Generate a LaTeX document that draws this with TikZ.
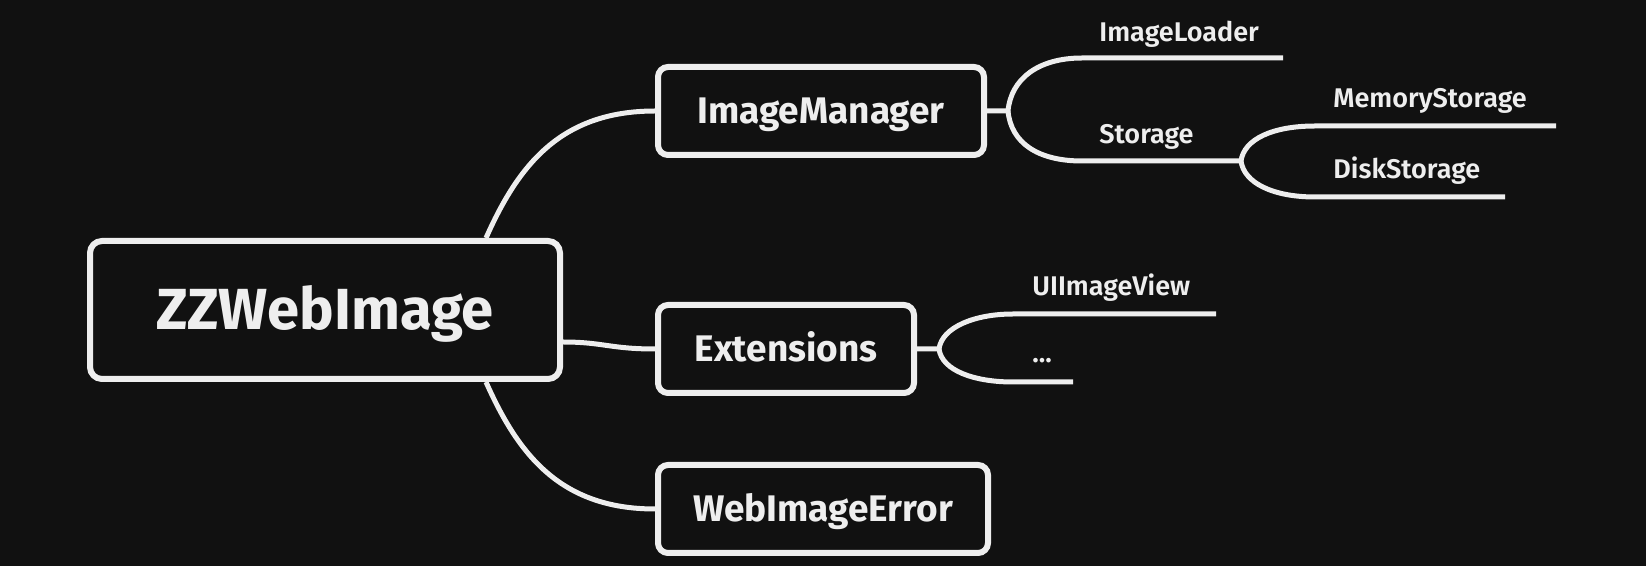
\documentclass[tikz,border=0pt]{standalone}
\usepackage{fontspec}
\setmainfont{Fira Sans}
\newfontfamily\topicfont{Fira Sans Bold}
\newfontfamily\leaffont{Fira Sans SemiBold}
\usetikzlibrary{calc, positioning}
\definecolor{bgdark}{HTML}{111111}
\definecolor{inkwhite}{HTML}{EEEEEE}
\tikzset{
  root/.style={draw=inkwhite, line width=3pt, rounded corners=6pt, fill=bgdark, text=inkwhite, font=\topicfont\fontsize{29}{33}\selectfont, text height=20pt, text depth=0pt, minimum width=235pt, minimum height=69pt},
  topic/.style={draw=inkwhite, line width=3pt, rounded corners=5pt, fill=bgdark, text=inkwhite, font=\topicfont\fontsize{18.5}{22}\selectfont, text height=12.8pt, text depth=0pt, minimum height=44pt},
  leaf/.style={text=inkwhite, font=\leaffont\fontsize{13.5}{16}\selectfont, anchor=base west, inner sep=0pt},
  branch/.style={draw=inkwhite, line width=2.5pt}
}

\begin{document}
\begin{tikzpicture}[x=0.5pt, y=-0.5pt]
    \useasboundingbox (0,0) rectangle (1646,566);
    \fill[bgdark] (0,0) rectangle (1646,566);

    \node[root] (zz) at (325,310) {ZZWebImage};
    \node[topic, minimum width=163pt] (manager) at (821,111) {ImageManager};
    \node[topic, minimum width=128pt] (ext) at (786,349) {Extensions};
    \node[topic, minimum width=165pt] (err) at (823,509) {WebImageError};

    % forks and leaf underlines
    \coordinate (mfork) at ($(manager.east)+(21,0)$);
    \coordinate (loaderA) at (1082,58);  \coordinate (loaderB) at (1283,58);
    \coordinate (storeA) at (1082,161);  \coordinate (sfork) at (1241,161);
    \coordinate (memA) at (1315,126);    \coordinate (memB) at (1556,126);
    \coordinate (diskA) at (1315,197);   \coordinate (diskB) at (1505,197);
    \coordinate (efork) at ($(ext.east)+(22,0)$);
    \coordinate (viewA) at (1013,314);   \coordinate (viewB) at (1216,314);
    \coordinate (moreA) at (1013,382);   \coordinate (moreB) at (1073,382);

    \draw[branch] ($(zz.north east)+(-77,0)$) .. controls +(32,-72) and +(-95,0) .. (manager.west);
    \draw[branch] ($(zz.east)+(0,32)$) .. controls +(40,0) and +(-45,0) .. (ext.west);
    \draw[branch] ($(zz.south east)+(-77,0)$) .. controls +(32,72) and +(-95,0) .. (err.west);

    \draw[branch] (manager.east) -- (mfork) .. controls +(3,-32) and +(-44,0) .. (loaderA) -- (loaderB);
    \draw[branch] (mfork) .. controls +(3,32) and +(-44,0) .. (storeA) -- (sfork);
    \draw[branch] (sfork) .. controls +(3,-22) and +(-42,0) .. (memA) -- (memB);
    \draw[branch] (sfork) .. controls +(3,22) and +(-42,0) .. (diskA) -- (diskB);
    \draw[branch] (ext.east) -- (efork) .. controls +(3,-22) and +(-38,0) .. (viewA) -- (viewB);
    \draw[branch] (efork) .. controls +(3,22) and +(-38,0) .. (moreA) -- (moreB);

    \node[leaf] (loader) at ([shift={(17,-16)}]loaderA) {ImageLoader};
    \node[leaf] (storage) at ([shift={(17,-17)}]storeA) {Storage};
    \node[leaf] (memory) at ([shift={(18,-18)}]memA) {MemoryStorage};
    \node[leaf] (disk) at ([shift={(18,-18)}]diskA) {DiskStorage};
    \node[leaf] (view) at ([shift={(19,-18)}]viewA) {UIImageView};
    \node[leaf] (more) at ([shift={(19,-19)}]moreA) {...};
\end{tikzpicture}
\end{document}
